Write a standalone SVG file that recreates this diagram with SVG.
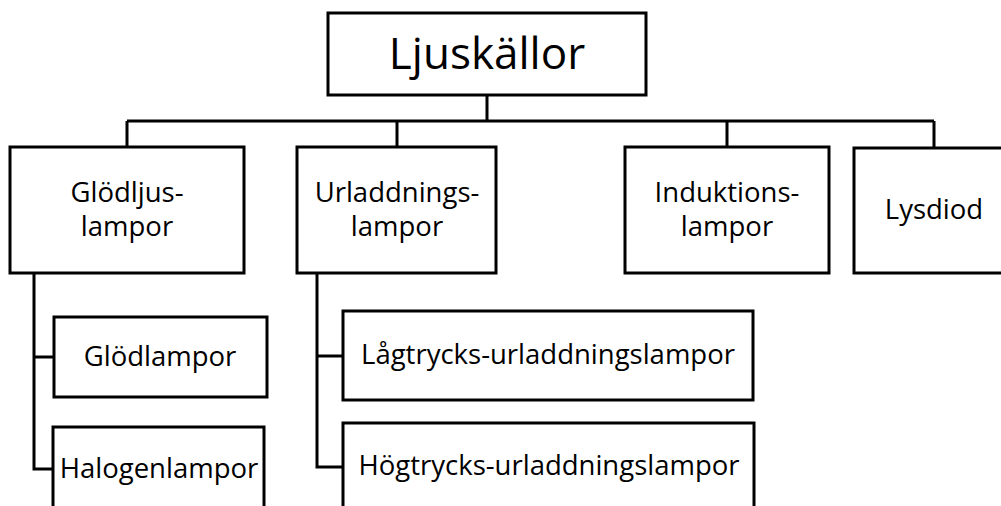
<svg xmlns="http://www.w3.org/2000/svg" width="1001" height="506" viewBox="0 0 1001 506">
<style>
.box{fill:#fff;stroke:#000;stroke-width:3}
.t{font-family:"Open Sans","DejaVu Sans",sans-serif;font-size:27.5px;fill:#000;text-anchor:middle}
.root{font-size:44px}
.c{fill:none;stroke:#000;stroke-width:3}
</style>
<rect width="1001" height="506" fill="#fff"/>
<g id="connectors">
<path class="c" d="M487 95V121M127 121H934M127 121V147M397 121V147M727 121V147M934 121V147"/>
<path class="c" d="M34 273V469H53M34 357H54"/>
<path class="c" d="M317 273V467H344M317 356H343"/>
</g>
<g id="root"><rect class="box" x="328" y="13" width="318" height="82"/><text class="t root" x="487" y="69">Ljuskällor</text></g>
<g id="glodljus"><rect class="box" x="10" y="147" width="234" height="126"/><text class="t" x="127" y="202">Glödljus-</text><text class="t" x="127" y="236">lampor</text></g>
<g id="urladdnings"><rect class="box" x="297" y="147" width="199" height="126"/><text class="t" x="397" y="202">Urladdnings-</text><text class="t" x="397" y="236">lampor</text></g>
<g id="induktions"><rect class="box" x="625" y="147" width="204" height="126"/><text class="t" x="727" y="202">Induktions-</text><text class="t" x="727" y="236">lampor</text></g>
<g id="lysdiod"><rect class="box" x="854" y="148" width="152" height="125"/><text class="t" x="934" y="219">Lysdiod</text></g>
<g id="glodlampor"><rect class="box" x="54" y="317" width="213" height="80"/><text class="t" x="160" y="366">Glödlampor</text></g>
<g id="halogen"><rect class="box" x="53" y="427" width="211" height="90"/><text class="t" x="159" y="478">Halogenlampor</text></g>
<g id="lagtrycks"><rect class="box" x="343" y="311" width="410" height="89"/><text class="t" x="548" y="364">Lågtrycks-urladdningslampor</text></g>
<g id="hogtrycks"><rect class="box" x="343" y="423" width="411" height="94"/><text class="t" x="549" y="475">Högtrycks-urladdningslampor</text></g>
</svg>
